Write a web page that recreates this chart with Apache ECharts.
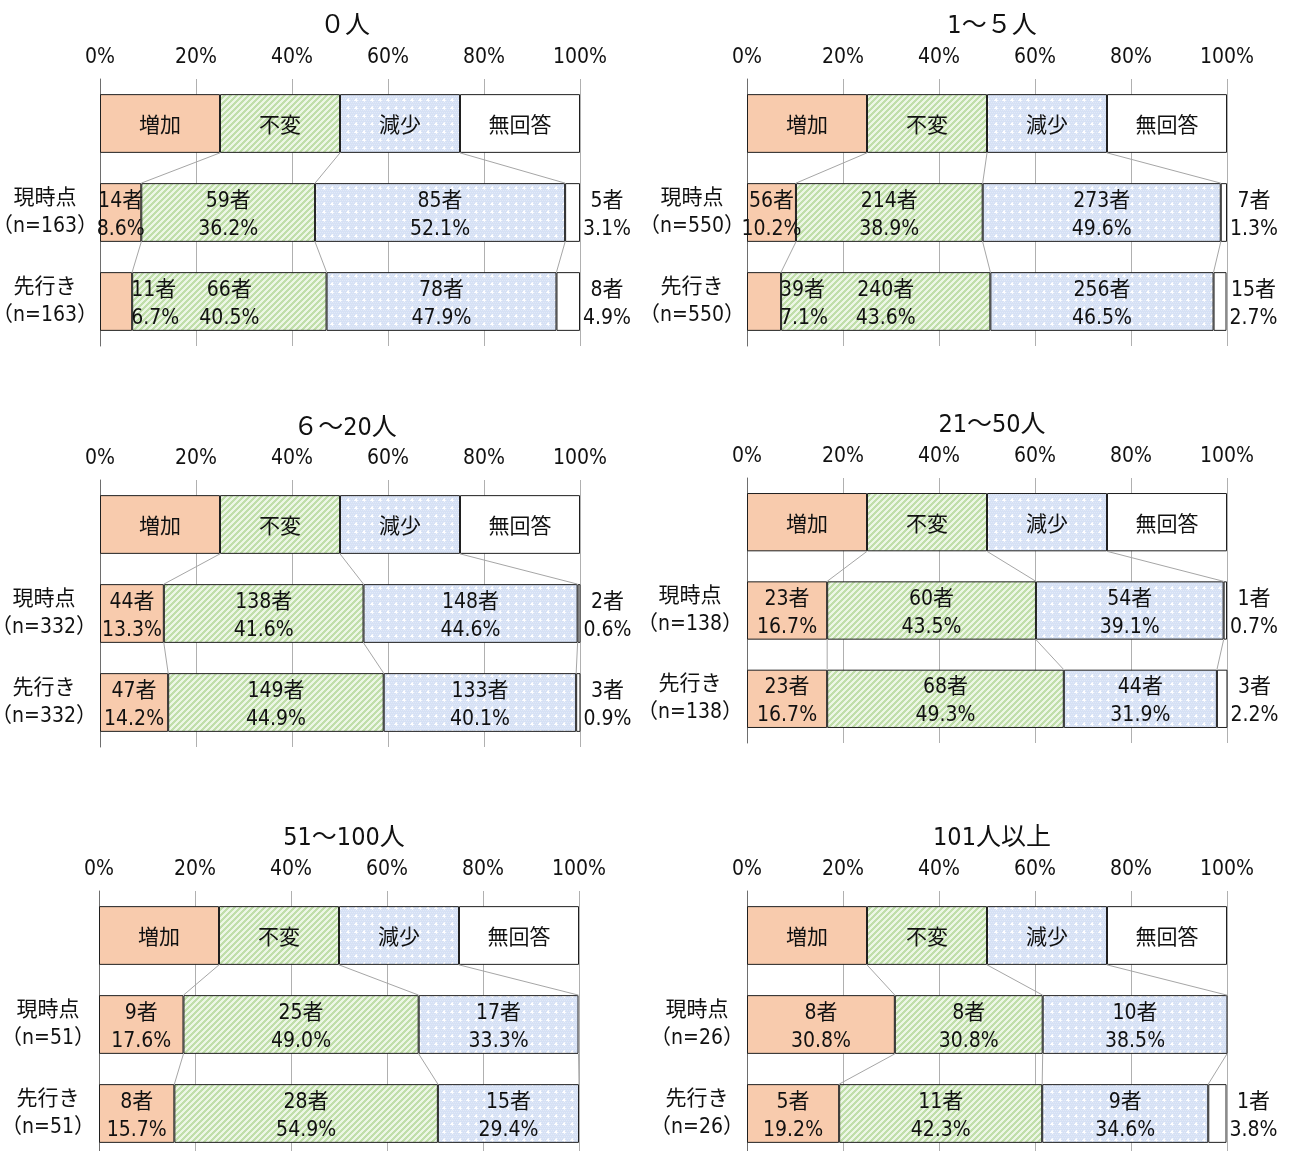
<!DOCTYPE html>
<html><head><meta charset="utf-8">
<script src="https://cdn.jsdelivr.net/npm/echarts@6/dist/echarts.min.js"></script>
<style>html,body{margin:0;padding:0;background:#fff}#c{width:1290px;height:1151px}</style>
</head><body><div id="c"></div>
<script>
// ---------- data ----------
const categories = ['増加', '不変', '減少', '無回答'];
const legendShares = [25, 25, 25, 25];
const rowNames = ['現時点', '先行き'];
const titles = ['０人', '1～５人', '６～20人', '21～50人', '51～100人', '101人以上'];
const nValues = [163, 550, 332, 138, 51, 26];
const nowCounts = [[14, 59, 85, 5], [56, 214, 273, 7], [44, 138, 148, 2], [23, 60, 54, 1], [9, 25, 17, 0], [8, 8, 10, 0]];
const nowPct = [[8.6, 36.2, 52.1, 3.1], [10.2, 38.9, 49.6, 1.3], [13.3, 41.6, 44.6, 0.6], [16.7, 43.5, 39.1, 0.7], [17.6, 49.0, 33.3, 0], [30.8, 30.8, 38.5, 0]];
const futCounts = [[11, 66, 78, 8], [39, 240, 256, 15], [47, 149, 133, 3], [23, 68, 44, 3], [8, 28, 15, 0], [5, 11, 9, 1]];
const futPct = [[6.7, 40.5, 47.9, 4.9], [7.1, 43.6, 46.5, 2.7], [14.2, 44.9, 40.1, 0.9], [16.7, 49.3, 31.9, 2.2], [15.7, 54.9, 29.4, 0], [19.2, 42.3, 34.6, 3.8]];

// ---------- layout ----------
const layout = [
  {left: 100, top: 79, height: 267, titleY: 24, margin: 55},
  {left: 747, top: 79, height: 267, titleY: 24, margin: 55},
  {left: 100, top: 480, height: 267, titleY: 426, margin: 56},
  {left: 747, top: 478, height: 265, titleY: 423, margin: 57},
  {left: 99, top: 891, height: 267, titleY: 836, margin: 51},
  {left: 747, top: 891, height: 267, titleY: 836, margin: 50}
];
const PW = 480;
const FONT = "'DejaVu Sans Condensed','Liberation Sans Narrow','Roboto Condensed','Noto Sans CJK JP',sans-serif";
const CJK = "'Noto Sans CJK JP',sans-serif";

function makePattern(kind) {
  const c = document.createElement('canvas');
  if (kind === 'stripe') {
    c.width = 6; c.height = 6;
    const g = c.getContext('2d');
    const img = g.createImageData(6, 6);
    for (let y = 0; y < 6; y++) for (let x = 0; x < 6; x++) {
      const i = (y * 6 + x) * 4;
      const on = ((x + y) % 6) < 3;
      const col = on ? [192, 222, 170] : [236, 246, 229];
      img.data[i] = col[0]; img.data[i + 1] = col[1]; img.data[i + 2] = col[2]; img.data[i + 3] = 255;
    }
    g.putImageData(img, 0, 0);
  } else {
    c.width = 8; c.height = 8;
    const g = c.getContext('2d');
    g.fillStyle = '#d6e1f5'; g.fillRect(0, 0, 8, 8);
    g.fillStyle = '#e3eaf8';
    for (let y = 0; y < 8; y += 2) for (let x = (y / 2) % 2; x < 8; x += 2) g.fillRect(x, y, 1, 1);
    g.fillStyle = '#ffffff';
    g.fillRect(3, 3, 2, 2); g.fillRect(4, 2, 0.8, 4); g.fillRect(2, 4, 4, 0.8);
  }
  return c;
}
const fills = [
  '#f8cbad',
  {image: makePattern('stripe'), repeat: 'repeat'},
  {image: makePattern('dots'), repeat: 'repeat'},
  '#ffffff'
];

const chart = echarts.init(document.getElementById('c'));
const grids = [], xAxes = [], yAxes = [], series = [], titleOpts = [];

function fmtPct(p) { return p.toFixed(1) + '%'; }

layout.forEach((L, i) => {
  grids.push({left: L.left, top: L.top, width: PW, height: L.height, containLabel: false, outerBoundsMode: 'none'});
  titleOpts.push({
    text: titles[i], left: L.left + PW / 2, top: L.titleY - 15, textAlign: 'center',
    textStyle: {fontSize: 25, fontWeight: 'normal', color: '#111', fontFamily: FONT}
  });
  xAxes.push({
    gridIndex: i, type: 'value', position: 'top', min: 0, max: 100, interval: 20,
    axisLine: {show: false}, axisTick: {show: false},
    axisLabel: {formatter: '{value}%', fontSize: 21, color: '#111', margin: 11, fontFamily: FONT},
    splitLine: {show: true, lineStyle: {color: '#b0b0b0', width: 1}}
  });
  const n = nValues[i];
  yAxes.push({
    gridIndex: i, type: 'category', inverse: true,
    data: ['', rowNames[0] + '\n（n=' + n + '）', rowNames[1] + '\n（n=' + n + '）'],
    axisTick: {show: false},
    axisLine: {show: true, lineStyle: {color: '#6e6e6e', width: 1}},
    axisLabel: {align: 'center', margin: L.margin, fontSize: 21, lineHeight: 28, padding: [6, 0, 0, 0], color: '#111', fontFamily: FONT}
  });

  const rows = [[nowCounts[i], nowPct[i]], [futCounts[i], futPct[i]]];
  categories.forEach((cat, k) => {
    const data = [{value: legendShares[k], label: {show: true, position: 'inside', formatter: cat, fontFamily: CJK, offset: [0, 1]}}];
    rows.forEach(([cnt, pct]) => {
      const v = pct[k];
      if (!v) { data.push({value: '-', label: {show: false}}); return; }
      const text = cnt[k] + '者\n' + fmtPct(v);
      let label;
      if (k === 3) {
        label = {show: true, position: ['100%', '50%'], offset: [27, 3], align: 'center', verticalAlign: 'middle', formatter: text};
      } else if (v < 8) {
        label = {show: true, position: 'right', distance: 0, align: 'left', offset: [-1, 3], formatter: text};
      } else {
        label = {show: true, position: 'inside', offset: [0, 3], formatter: text};
      }
      data.push({value: v, label});
    });
    series.push({
      type: 'bar', name: cat, xAxisIndex: i, yAxisIndex: i, stack: 'p' + i, barWidth: '66%',
      itemStyle: {color: fills[k], borderColor: '#1f1f1f', borderWidth: 1},
      label: {show: true, color: '#111', fontSize: 21, lineHeight: 28, fontFamily: FONT},
      emphasis: {disabled: true},
      data
    });
  });

  // connector lines between segment boundaries of consecutive rows
  const cum = arr => { const out = []; let s = 0; for (let k = 0; k < 3; k++) { s += arr[k]; out.push(s); } return out; };
  const b0 = cum(legendShares), b1 = cum(nowPct[i]), b2 = cum(futPct[i]);
  const links = [];
  for (let k = 0; k < 3; k++) {
    links.push([b0[k], 0, Math.min(b1[k], 100), 1]);
    links.push([Math.min(b1[k], 100), 1, Math.min(b2[k], 100), 2]);
  }
  series.push({
    type: 'custom', xAxisIndex: i, yAxisIndex: i, z: 5, silent: true,
    encode: {x: [0, 2], y: [1, 3]},
    renderItem: function (params, api) {
      const p1 = api.coord([api.value(0), api.value(1)]);
      const p2 = api.coord([api.value(2), api.value(3)]);
      const half = api.size([0, 1])[1] * 0.66 / 2;
      return {
        type: 'line',
        shape: {x1: p1[0], y1: p1[1] + half, x2: p2[0], y2: p2[1] - half},
        style: {stroke: '#a6a6a6', lineWidth: 1}
      };
    },
    data: links
  });
});

chart.setOption({
  animation: false,
  backgroundColor: '#ffffff',
  title: titleOpts,
  grid: grids,
  xAxis: xAxes,
  yAxis: yAxes,
  series
});
</script>
</body></html>
